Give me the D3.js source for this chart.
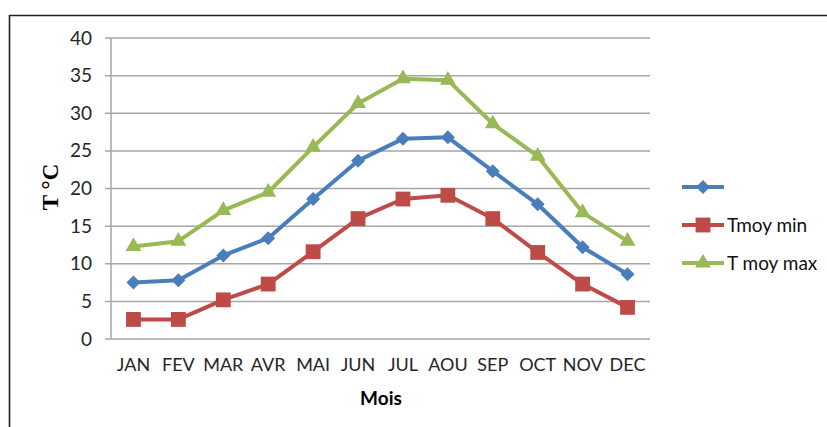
<!DOCTYPE html>
<html>
<head>
<meta charset="utf-8">
<script src="https://cdn.jsdelivr.net/npm/d3@7"></script>
<style>
  body { margin: 0; background: #fff; }
  svg { display: block; }
</style>
</head>
<body>
<div id="chart"></div>
<script>
const mois = ["JAN", "FEV", "MAR", "AVR", "MAI", "JUN", "JUL", "AOU", "SEP", "OCT", "NOV", "DEC"];
const tmoy = [7.5, 7.8, 11.1, 13.4, 18.6, 23.7, 26.6, 26.8, 22.3, 17.9, 12.2, 8.6];
const tmin = [2.6, 2.6, 5.2, 7.3, 11.6, 16.0, 18.6, 19.1, 16.0, 11.5, 7.3, 4.2];
const tmax = [12.3, 13.0, 17.1, 19.5, 25.5, 31.3, 34.6, 34.4, 28.6, 24.3, 16.8, 13.0];
const yTicks = [0, 5, 10, 15, 20, 25, 30, 35, 40];

const series = [
  {name: "", values: tmoy, color: "#4a7ebb", symbol: d3.symbolDiamond2, size: 125},
  {name: "Tmoy min", values: tmin, color: "#be4b48", symbol: d3.symbolSquare2, size: 280},
  {name: "T moy max", values: tmax, color: "#98b954", symbol: d3.symbolTriangle2, size: 180}
];

const width = 827, height = 427;
const plotL = 111, plotR = 650, plotT = 38, plotB = 339;
const font = "Lato, 'Open Sans', sans-serif";

const svg = d3.select("#chart").append("svg")
  .attr("width", width).attr("height", height);

// chart frame
svg.append("path")
  .attr("d", "M9.5,440V15.5H840")
  .attr("fill", "none").attr("stroke", "#222").attr("stroke-width", 1.6);

const x = d3.scaleBand().domain(mois).range([plotL, plotR]);
const y = d3.scaleLinear().domain([0, 40]).range([plotB, plotT]);

// grid
svg.append("g").selectAll("line")
  .data(yTicks).join("line")
  .attr("x1", plotL - 6).attr("x2", plotR)
  .attr("y1", d => y(d)).attr("y2", d => y(d))
  .attr("stroke", "#a6a6a6").attr("stroke-width", 1.5);

svg.append("line")
  .attr("x1", plotL).attr("x2", plotL).attr("y1", plotT).attr("y2", plotB)
  .attr("stroke", "#a6a6a6").attr("stroke-width", 1.5);

const yAxis = svg.append("g")
  .attr("transform", `translate(${plotL},0)`)
  .call(d3.axisLeft(y).tickValues(yTicks).tickSize(0).tickPadding(19));
yAxis.select(".domain").remove();
yAxis.selectAll("text")
  .attr("font-family", font)
  .attr("font-size", 19).attr("fill", "#262626");

const xAxis = svg.append("g")
  .attr("transform", `translate(0,${plotB})`)
  .call(d3.axisBottom(x).tickSize(0).tickPadding(19));
xAxis.select(".domain").remove();
xAxis.selectAll("text")
  .attr("font-family", font)
  .attr("font-size", 18).attr("fill", "#262626");

// titles
svg.append("text")
  .attr("transform", "translate(58,187) rotate(-90)")
  .attr("text-anchor", "middle")
  .attr("font-family", "'Liberation Serif', 'DejaVu Serif', serif")
  .attr("font-weight", "bold").attr("font-size", 23)
  .text("T °C");

svg.append("text")
  .attr("x", 381).attr("y", 405)
  .attr("text-anchor", "middle")
  .attr("font-family", font)
  .attr("font-weight", "bold").attr("font-size", 19)
  .text("Mois");

// lines and markers
const line = d3.line()
  .x((d, i) => x(mois[i]) + x.bandwidth() / 2)
  .y(d => y(d));

series.forEach(s => {
  svg.append("path")
    .attr("d", line(s.values))
    .attr("fill", "none").attr("stroke", s.color)
    .attr("stroke-width", 4).attr("stroke-linejoin", "round");
  svg.append("g").selectAll("path")
    .data(s.values).join("path")
    .attr("transform", (d, i) => `translate(${x(mois[i]) + x.bandwidth() / 2},${y(d)})`)
    .attr("d", d3.symbol(s.symbol, s.size))
    .attr("fill", s.color);
});

// legend
const legend = svg.append("g");
series.forEach((s, i) => {
  const ly = 187 + i * 38;
  legend.append("line")
    .attr("x1", 682).attr("x2", 724).attr("y1", ly).attr("y2", ly)
    .attr("stroke", s.color).attr("stroke-width", 4);
  legend.append("path")
    .attr("transform", `translate(703,${ly})`)
    .attr("d", d3.symbol(s.symbol, s.size))
    .attr("fill", s.color);
  legend.append("text")
    .attr("x", 727).attr("y", ly + 6.5)
    .attr("font-family", font)
    .attr("font-size", 19).attr("fill", "#111")
    .text(s.name);
});
</script>
</body>
</html>
